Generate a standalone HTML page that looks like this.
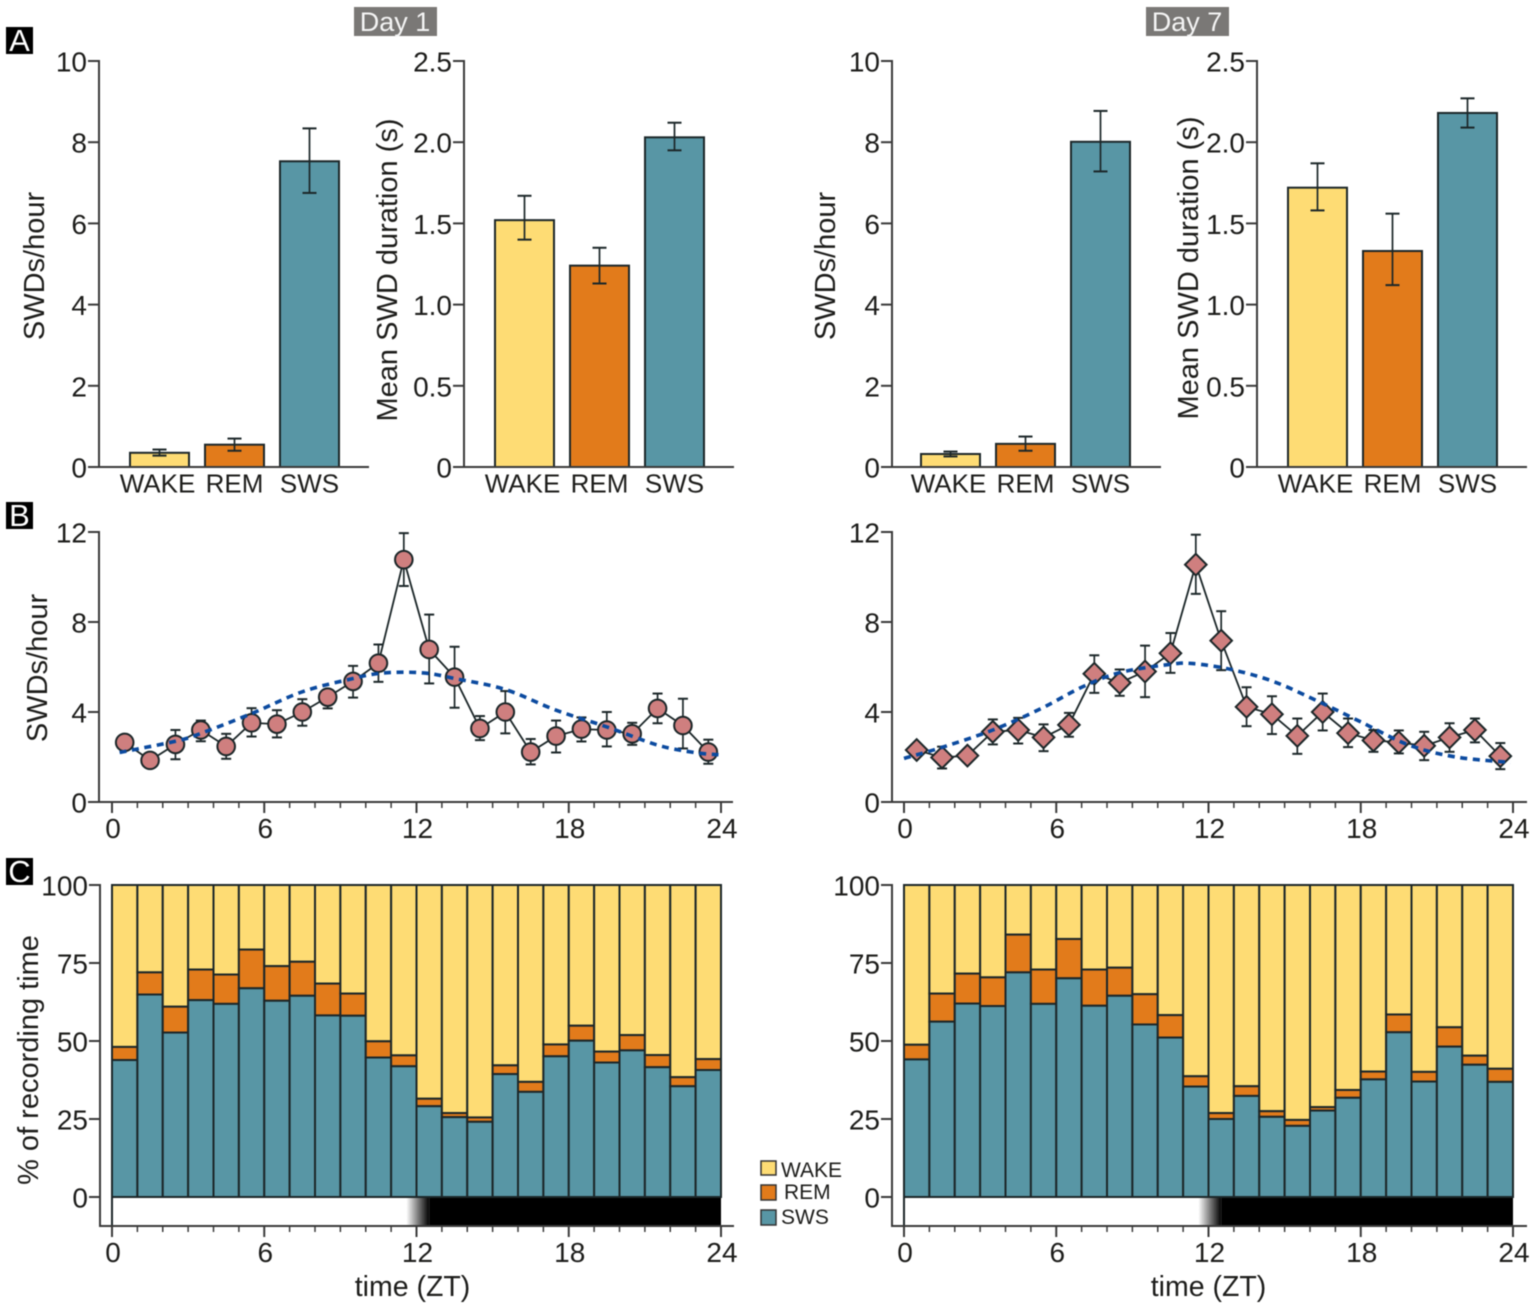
<!DOCTYPE html>
<html lang="en">
<head>
<meta charset="utf-8">
<title>SWD occurrence by vigilance state, Day 1 and Day 7</title>
<style>
  html, body { margin: 0; padding: 0; background: #fff; }
  svg { display: block; filter: blur(0.45px); }
  text { font-family: "Liberation Sans", sans-serif; fill: #1d1d1b; }
  .tick { font-size: 28px; }
  .title { font-size: 29px; }
  .cat { font-size: 26px; }
</style>
</head>
<body>
<svg id="figure" xmlns="http://www.w3.org/2000/svg" width="1535" height="1308" viewBox="0 0 1535 1308">
  <defs>
    <linearGradient id="dusk" x1="0" x2="1" y1="0" y2="0">
      <stop offset="0" stop-color="#ffffff"/>
      <stop offset="1" stop-color="#000000"/>
    </linearGradient>
  </defs>
  <rect x="0" y="0" width="1535" height="1308" fill="#ffffff"/>

  <g>
    <rect x="354" y="7" width="83" height="29" fill="#7a7876"/>
    <text x="395" y="31" text-anchor="middle" style="font-size:27px;fill:#f4f4f4">Day 1</text>
  </g>
  <g>
    <rect x="1146" y="7" width="83" height="29" fill="#7a7876"/>
    <text x="1187" y="31" text-anchor="middle" style="font-size:27px;fill:#f4f4f4">Day 7</text>
  </g>

  <g>
    <rect x="6" y="27" width="27" height="27" fill="#000"/>
    <text x="19.5" y="51" text-anchor="middle" style="font-size:31px;fill:#fff">A</text>
  </g>
  <g>
    <rect x="6" y="502" width="27" height="27" fill="#000"/>
    <text x="19.5" y="526" text-anchor="middle" style="font-size:31px;fill:#fff">B</text>
  </g>
  <g>
    <rect x="6" y="858" width="27" height="27" fill="#000"/>
    <text x="19.5" y="882" text-anchor="middle" style="font-size:31px;fill:#fff">C</text>
  </g>

  <text class="title" transform="translate(44,266) rotate(-90)" text-anchor="middle">SWDs/hour</text>
  <text class="title" transform="translate(397,270) rotate(-90)" text-anchor="middle">Mean SWD duration (s)</text>
  <text class="title" transform="translate(835,266) rotate(-90)" text-anchor="middle">SWDs/hour</text>
  <text class="title" transform="translate(1198,268) rotate(-90)" text-anchor="middle">Mean SWD duration (s)</text>
  <text class="title" transform="translate(47,668) rotate(-90)" text-anchor="middle">SWDs/hour</text>
  <text class="title" transform="translate(38,1060) rotate(-90)" text-anchor="middle">% of recording time</text>
  <text class="title" x="412.5" y="1296" text-anchor="middle" style="font-size:28.5px">time (ZT)</text>
  <text class="title" x="1208.5" y="1296" text-anchor="middle" style="font-size:28.5px">time (ZT)</text>

  <g>
    <g>
      <rect x="761" y="1161" width="15" height="14" fill="#fedc74" stroke="#333" stroke-width="1.5"/>
      <text x="781" y="1177" style="font-size:21px">WAKE</text>
    </g>
    <g>
      <rect x="761" y="1185" width="15" height="15" fill="#e27b1b" stroke="#333" stroke-width="1.5"/>
      <text x="784" y="1199" style="font-size:21px">REM</text>
    </g>
    <g>
      <rect x="761" y="1210" width="15" height="15" fill="#5896a5" stroke="#333" stroke-width="1.5"/>
      <text x="781" y="1224" style="font-size:21px">SWS</text>
    </g>
  </g>
</svg>

<script>
// ---- shared categories and tick labels ----
const stateCategories = ['WAKE', 'REM', 'SWS'];
const rateTicks = [0, 2, 4, 6, 8, 10];
const rateTickLabels = ['0', '2', '4', '6', '8', '10'];
const durationTicks = [0, 0.5, 1, 1.5, 2, 2.5];
const durationTickLabels = ['0', '0.5', '1.0', '1.5', '2.0', '2.5'];
const hourlyTicks = [0, 4, 8, 12];
const hourlyTickLabels = ['0', '4', '8', '12'];
const percentTicks = [0, 25, 50, 75, 100];
const percentTickLabels = ['0', '25', '50', '75', '100'];
const timeTicks = [0, 6, 12, 18, 24];
const timeTickLabels = ['0', '6', '12', '18', '24'];
const hoursOfDay = [0.5, 1.5, 2.5, 3.5, 4.5, 5.5, 6.5, 7.5, 8.5, 9.5, 10.5, 11.5, 12.5, 13.5, 14.5, 15.5, 16.5, 17.5, 18.5, 19.5, 20.5, 21.5, 22.5, 23.5];

// ---- panel A: per-state bars ----
const day1Rate = [0.35, 0.55, 7.53];
const day1RateLow = [0.28, 0.40, 6.75];
const day1RateHigh = [0.43, 0.70, 8.34];
const day1Duration = [1.52, 1.24, 2.03];
const day1DurationLow = [1.40, 1.13, 1.95];
const day1DurationHigh = [1.67, 1.35, 2.12];
const day7Rate = [0.32, 0.57, 8.01];
const day7RateLow = [0.26, 0.40, 7.28];
const day7RateHigh = [0.38, 0.75, 8.77];
const day7Duration = [1.72, 1.33, 2.18];
const day7DurationLow = [1.58, 1.12, 2.09];
const day7DurationHigh = [1.87, 1.56, 2.27];

// ---- panel B: hourly SWD rate ----
const day1Hourly = [2.65, 1.85, 2.56, 3.2, 2.47, 3.52, 3.46, 4.0, 4.66, 5.36, 6.17, 10.77, 6.78, 5.55, 3.27, 4.0, 2.22, 2.93, 3.24, 3.2, 3.03, 4.16, 3.4, 2.22];
const day1HourlyLow = [2.65, 1.85, 1.9, 2.7, 1.92, 2.91, 2.87, 3.39, 4.16, 4.64, 5.34, 9.6, 5.27, 4.19, 2.75, 3.05, 1.67, 2.2, 2.69, 2.47, 2.54, 3.5, 2.38, 1.7];
const day1HourlyHigh = [2.65, 1.85, 3.2, 3.62, 3.03, 4.17, 4.08, 4.57, 4.97, 6.05, 7.0, 11.95, 8.33, 6.9, 3.82, 4.93, 2.8, 3.62, 3.76, 4.0, 3.52, 4.82, 4.59, 2.77];
const day1FitHours = [0.3, 2.5, 3.5, 5.5, 7.5, 9.5, 10.5, 11.5, 12.5, 13.5, 15.5, 17.5, 19.5, 21.5, 23, 23.9];
const day1FitValues = [2.2, 2.7, 3.05, 3.93, 4.9, 5.49, 5.71, 5.77, 5.71, 5.49, 5.0, 4.08, 3.34, 2.53, 2.19, 2.1];

const day7Hourly = [2.31, 1.98, 2.06, 3.12, 3.2, 2.87, 3.43, 5.7, 5.3, 5.8, 6.61, 10.55, 7.17, 4.23, 3.9, 2.94, 4.0, 3.06, 2.74, 2.65, 2.5, 2.87, 3.2, 2.04];
const day7HourlyLow = [2.31, 1.49, 2.06, 2.56, 2.6, 2.26, 2.9, 4.85, 4.72, 4.66, 5.74, 9.25, 5.86, 3.37, 3.02, 2.14, 3.18, 2.44, 2.23, 2.16, 1.86, 2.23, 2.65, 1.46];
const day7HourlyHigh = [2.31, 2.46, 2.06, 3.67, 3.74, 3.45, 3.96, 6.52, 5.89, 6.95, 7.51, 11.88, 8.48, 5.1, 4.7, 3.71, 4.82, 3.71, 3.2, 3.18, 3.12, 3.5, 3.71, 2.62];
const day7FitHours = [0, 1.5, 3.5, 5.4, 7, 8.5, 10.5, 11.4, 12.9, 14.6, 16.5, 18, 19.9, 21.75, 23.9];
const day7FitValues = [1.94, 2.43, 3.2, 4.15, 5.1, 5.75, 6.12, 6.15, 5.89, 5.34, 4.38, 3.56, 2.53, 2.0, 1.76];

// ---- panel C: stacked % of recording time (cumulative tops) ----
const day1SwsTop = [43.9, 64.9, 52.7, 63.1, 61.9, 66.9, 62.9, 64.5, 58.2, 58.1, 44.7, 41.9, 29.1, 25.6, 24.1, 39.4, 33.7, 45.1, 50.1, 43.1, 47, 41.6, 35.5, 40.7];
const day1RemTop = [48.1, 72, 61, 72.9, 71.3, 79.3, 74, 75.4, 68.4, 65.2, 49.9, 45.4, 31.5, 26.9, 25.5, 42.2, 36.9, 48.9, 54.9, 46.6, 51.9, 45.5, 38.4, 44.2];
const day7SwsTop = [44.1, 56.2, 62, 61.2, 72, 61.9, 70.1, 61.3, 64.5, 55.3, 51.1, 35.4, 25, 32.4, 25.7, 22.8, 27.7, 31.8, 37.7, 52.8, 37, 48.2, 42.4, 36.9];
const day7RemTop = [48.8, 65.2, 71.6, 70.4, 84.1, 72.9, 82.7, 72.9, 73.5, 65, 58.3, 38.7, 26.9, 35.5, 27.5, 24.7, 28.8, 34.3, 40.2, 58.5, 40.1, 54.4, 45.3, 41.1];

const SVG_NS = 'http://www.w3.org/2000/svg';
const INK = '#1c2729';
const AXIS_INK = '#3a3a3a';
const WAKE_FILL = '#fedc74';
const REM_FILL = '#e27b1b';
const SWS_FILL = '#5896a5';
const stateFills = [WAKE_FILL, REM_FILL, SWS_FILL];
const figure = document.getElementById('figure');

function scaleLinear(d0, d1, r0, r1) {
  return function (v) { return r0 + (v - d0) / (d1 - d0) * (r1 - r0); };
}
function addGroup(parent) {
  const el = document.createElementNS(SVG_NS, 'g');
  parent.appendChild(el);
  return el;
}
function addLine(parent, x1, y1, x2, y2, width, color) {
  const el = document.createElementNS(SVG_NS, 'line');
  el.setAttribute('x1', x1);
  el.setAttribute('y1', y1);
  el.setAttribute('x2', x2);
  el.setAttribute('y2', y2);
  el.setAttribute('stroke', color || INK);
  el.setAttribute('stroke-width', width);
  parent.appendChild(el);
  return el;
}
function addRect(parent, x, y, w, h, fill, strokeWidth) {
  const el = document.createElementNS(SVG_NS, 'rect');
  el.setAttribute('x', x);
  el.setAttribute('y', y);
  el.setAttribute('width', w);
  el.setAttribute('height', h);
  el.setAttribute('fill', fill);
  if (strokeWidth) {
    el.setAttribute('stroke', INK);
    el.setAttribute('stroke-width', strokeWidth);
  }
  parent.appendChild(el);
  return el;
}
function addText(parent, x, y, content, anchor, cls) {
  const el = document.createElementNS(SVG_NS, 'text');
  el.setAttribute('x', x);
  el.setAttribute('y', y);
  el.setAttribute('text-anchor', anchor);
  el.setAttribute('class', cls);
  el.textContent = content;
  parent.appendChild(el);
  return el;
}
function addYAxis(parent, prefix, yScale, ticks, labels, axisX, bottomY) {
  const axis = addLine(parent, axisX, yScale(ticks[ticks.length - 1]) - 1, axisX, bottomY + 1, 2, AXIS_INK);
  
  
  ticks.forEach(function (t, i) {
    const mark = addLine(parent, axisX - 11, yScale(t), axisX, yScale(t), 2, AXIS_INK);
    
    
    const label = addText(parent, axisX - 12, yScale(t) + 10.5, labels[i], 'end', 'tick');
    
    
  });
}
function addTimeAxis(parent, prefix, xScale, axisX, axisY, endX) {
  const axis = addLine(parent, axisX, axisY, endX, axisY, 2, AXIS_INK);
  
  
  for (let h = 0; h <= 24; h++) {
    const major = timeTicks.indexOf(h) >= 0;
    const mark = addLine(parent, xScale(h), axisY, xScale(h), axisY + (major ? 11 : 6), major ? 2 : 1.5, AXIS_INK);
    
    
  }
  timeTicks.forEach(function (t, i) {
    const label = addText(parent, xScale(t) + 1, axisY + 36, timeTickLabels[i], 'middle', 'tick');
    
    
  });
}
function addErrorBar(parent, prefix, x, yLow, yHigh, cap) {
  const bar = addGroup(parent);
  
  
  addLine(bar, x, yLow, x, yHigh, 1.7);
  addLine(bar, x - cap, yLow, x + cap, yLow, 2);
  addLine(bar, x - cap, yHigh, x + cap, yHigh, 2);
}

function drawBarChart(prefix, values, lows, highs, ticks, labels, axisX, firstBarX, endX) {
  const chart = addGroup(figure);
  
  
  const yScale = scaleLinear(ticks[0], ticks[ticks.length - 1], 467, 61);
  const barWidth = 59;
  const step = 75;
  stateCategories.forEach(function (cat, i) {
    const x = firstBarX + i * step;
    const bar = addRect(chart, x, yScale(values[i]), barWidth, yScale(0) - yScale(values[i]), stateFills[i], 2);
    
    
    addErrorBar(chart, prefix + '-' + cat.toLowerCase(), x + barWidth / 2, yScale(lows[i]), yScale(highs[i]), 7);
    const label = addText(chart, x + barWidth / 2 + (i === 0 ? -2 : 0), 492.5, cat, 'middle', 'cat');
    
    
  });
  addYAxis(chart, prefix, yScale, ticks, labels, axisX, 467);
  const base = addLine(chart, axisX, 467, endX, 467, 2, AXIS_INK);
  
  
}

function smoothPath(xs, ys) {
  let d = 'M' + xs[0].toFixed(1) + ' ' + ys[0].toFixed(1);
  for (let i = 0; i < xs.length - 1; i++) {
    const p0 = Math.max(i - 1, 0);
    const p3 = Math.min(i + 2, xs.length - 1);
    const c1x = xs[i] + (xs[i + 1] - xs[p0]) / 6;
    const c1y = ys[i] + (ys[i + 1] - ys[p0]) / 6;
    const c2x = xs[i + 1] - (xs[p3] - xs[i]) / 6;
    const c2y = ys[i + 1] - (ys[p3] - ys[i]) / 6;
    d += ' C' + c1x.toFixed(1) + ' ' + c1y.toFixed(1) + ' ' + c2x.toFixed(1) + ' ' + c2y.toFixed(1) + ' ' + xs[i + 1].toFixed(1) + ' ' + ys[i + 1].toFixed(1);
  }
  return d;
}

function drawLineChart(prefix, values, lows, highs, fitHours, fitValues, marker, axisX, zeroX, fullX, endX) {
  const chart = addGroup(figure);
  
  
  const xScale = scaleLinear(0, 24, zeroX, fullX);
  const yScale = scaleLinear(0, 12, 802, 532);
  addYAxis(chart, prefix, yScale, hourlyTicks, hourlyTickLabels, axisX, 802);
  addTimeAxis(chart, prefix, xScale, axisX, 802, endX);

  hoursOfDay.forEach(function (h, i) {
    if (highs[i] !== lows[i]) {
      addErrorBar(chart, prefix + '-hour-' + i, xScale(h), yScale(lows[i]), yScale(highs[i]), 5);
    }
  });

  const connector = document.createElementNS(SVG_NS, 'polyline');
  
  
  connector.setAttribute('fill', 'none');
  connector.setAttribute('stroke', INK);
  connector.setAttribute('stroke-width', 1.8);
  connector.setAttribute('points', hoursOfDay.map(function (h, i) { return xScale(h).toFixed(1) + ',' + yScale(values[i]).toFixed(1); }).join(' '));
  chart.appendChild(connector);

  hoursOfDay.forEach(function (h, i) {
    const cx = xScale(h);
    const cy = yScale(values[i]);
    let point;
    if (marker === 'circle') {
      point = document.createElementNS(SVG_NS, 'circle');
      point.setAttribute('cx', cx);
      point.setAttribute('cy', cy);
      point.setAttribute('r', 8.8);
    } else {
      point = document.createElementNS(SVG_NS, 'polygon');
      const r = 10.8;
      point.setAttribute('points', [cx, cy - r, cx + r, cy, cx, cy + r, cx - r, cy].join(' '));
    }
    point.setAttribute('fill', '#cf7f7f');
    point.setAttribute('stroke', INK);
    point.setAttribute('stroke-width', 2);
    
    
    chart.appendChild(point);
  });

  const fit = document.createElementNS(SVG_NS, 'path');
  
  
  fit.setAttribute('d', smoothPath(fitHours.map(xScale), fitValues.map(yScale)));
  fit.setAttribute('fill', 'none');
  fit.setAttribute('stroke', '#0b4a9f');
  fit.setAttribute('stroke-width', 3.6);
  fit.setAttribute('stroke-dasharray', '7 5.6');
  chart.appendChild(fit);
}

function drawStackedChart(prefix, swsTop, remTop, axisX, zeroX, fullX, endX) {
  const chart = addGroup(figure);
  
  
  const xScale = scaleLinear(0, 24, zeroX, fullX);
  const yScale = scaleLinear(0, 100, 1197, 885);
  const lightBottom = 1226;

  hoursOfDay.forEach(function (h, i) {
    const x = xScale(h - 0.5);
    const w = xScale(h + 0.5) - x;
    const wake = addRect(chart, x, yScale(100), w, yScale(remTop[i]) - yScale(100), WAKE_FILL, 2);
    
    
    const rem = addRect(chart, x, yScale(remTop[i]), w, yScale(swsTop[i]) - yScale(remTop[i]), REM_FILL, 2);
    
    
    const sws = addRect(chart, x, yScale(swsTop[i]), w, yScale(0) - yScale(swsTop[i]), SWS_FILL, 2);
    
    
  });

  const lightBar = addRect(chart, xScale(0), yScale(0), xScale(11.6) - xScale(0), lightBottom - yScale(0), '#ffffff');
  
  
  const dusk = addRect(chart, xScale(11.6), yScale(0), xScale(12.5) - xScale(11.6), lightBottom - yScale(0), 'url(#dusk)');
  
  
  const darkBar = addRect(chart, xScale(12.5), yScale(0), xScale(24) - xScale(12.5), lightBottom - yScale(0), '#000000');
  
  
  const lightEdge = addLine(chart, xScale(0), yScale(0), xScale(0), lightBottom, 2);
  
  
  const zeroLine = addLine(chart, xScale(0), yScale(0), xScale(24), yScale(0), 2);
  
  

  addYAxis(chart, prefix, yScale, percentTicks, percentTickLabels, axisX, lightBottom);
  addTimeAxis(chart, prefix, xScale, axisX, lightBottom, endX);
}

drawBarChart('a1', day1Rate, day1RateLow, day1RateHigh, rateTicks, rateTickLabels, 99, 130, 369);
drawBarChart('a2', day1Duration, day1DurationLow, day1DurationHigh, durationTicks, durationTickLabels, 464, 495, 734);
drawBarChart('a3', day7Rate, day7RateLow, day7RateHigh, rateTicks, rateTickLabels, 892, 921, 1161);
drawBarChart('a4', day7Duration, day7DurationLow, day7DurationHigh, durationTicks, durationTickLabels, 1257, 1288, 1527);
drawLineChart('b1', day1Hourly, day1HourlyLow, day1HourlyHigh, day1FitHours, day1FitValues, 'circle', 99, 112, 721, 733);
drawLineChart('b2', day7Hourly, day7HourlyLow, day7HourlyHigh, day7FitHours, day7FitValues, 'diamond', 892, 904, 1513, 1527);
drawStackedChart('c1', day1SwsTop, day1RemTop, 100, 112, 721, 734);
drawStackedChart('c2', day7SwsTop, day7RemTop, 892, 904, 1513, 1527);
</script>
</body>
</html>
